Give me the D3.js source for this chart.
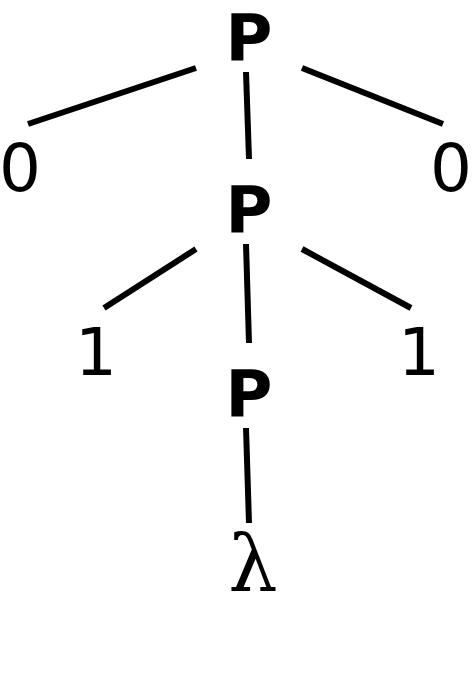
<!DOCTYPE html>
<html>
<head>
<meta charset="utf-8">
<script src="https://cdn.jsdelivr.net/npm/d3@7"></script>
<style>
  html, body { margin: 0; padding: 0; background: #fff; }
  .node-inner { font-family: "DejaVu Sans", sans-serif; font-weight: bold; font-size: 64px; }
  .node-leaf { font-family: "DejaVu Sans", sans-serif; font-size: 66px; }
  .node-empty { font-family: "DejaVu Serif", serif; font-size: 78px; }
  .link { stroke: #000; stroke-width: 6; }
</style>
</head>
<body>
<div class="tree"></div>
<script>
// labels of the parse tree, parent index for each node (-1 = root)
var labels  = ["P", "0", "P", "0", "1", "P", "1", "\u03bb"];
var parents = [-1,  0,   0,   0,   2,   2,   2,   5];

var width = 472, height = 676;

var rows = labels.map(function (l, i) { return {id: "n" + i, label: l, parent: parents[i] < 0 ? "" : "n" + parents[i]}; });
var root = d3.stratify()
  .id(function (d) { return d.id; })
  .parentId(function (d) { return d.parent || null; })(rows);

d3.tree().nodeSize([1, 1])(root);

// baseline per depth, leaves beside a branch sit a bit higher
var y = d3.scaleLinear().domain([0, 1, 2, 3]).range([60, 232, 416, 591]);
// side leaves spread out per depth, the spine stays in the middle
var sideX = {
  1: d3.scaleLinear().domain([-1, 1]).range([20, 451]),
  2: d3.scaleLinear().domain([-1, 1]).range([96, 419])
};
var cx = 249;

root.each(function (n) {
  n.px = n.x === 0 ? cx : sideX[n.depth](n.x);
  var raised = !n.children && n.parent && n.parent.children.some(function (s) { return s.children; });
  n.py = y(n.depth) - (raised ? 41 : 0);
});

var svg = d3.select(".tree").append("svg")
  .attr("width", width)
  .attr("height", height);

// links: start under the parent, stop above the child
var sideDrop = d3.scaleLinear().domain([0, 1]).range([8, 17]);
var links = root.links().map(function (l) {
  var s = l.source, t = l.target;
  var side = Math.sign(t.px - s.px);
  if (side === 0) {
    return {x1: s.px - 3, y1: s.py + 12, x2: t.px, y2: t.py - (t.children ? 73 : 68)};
  }
  return {x1: s.px + side * 53, y1: s.py + sideDrop(s.depth), x2: t.px - side * 8, y2: t.py - 67};
});

svg.selectAll(".link")
  .data(links)
  .enter().append("line")
  .attr("class", "link")
  .attr("x1", function (d) { return d.x1; })
  .attr("y1", function (d) { return d.y1; })
  .attr("x2", function (d) { return d.x2; })
  .attr("y2", function (d) { return d.y2; });

svg.selectAll(".node")
  .data(root.descendants())
  .enter().append("text")
  .attr("class", function (d) {
    if (d.children) return "node node-inner";
    return d.data.label === "\u03bb" ? "node node-empty" : "node node-leaf";
  })
  .attr("x", function (d) { return d.px; })
  .attr("y", function (d) { return d.py; })
  .attr("dx", function (d) { return d.data.label === "\u03bb" ? 4 : 0; })
  .attr("text-anchor", "middle")
  .text(function (d) { return d.data.label; });
</script>
</body>
</html>
